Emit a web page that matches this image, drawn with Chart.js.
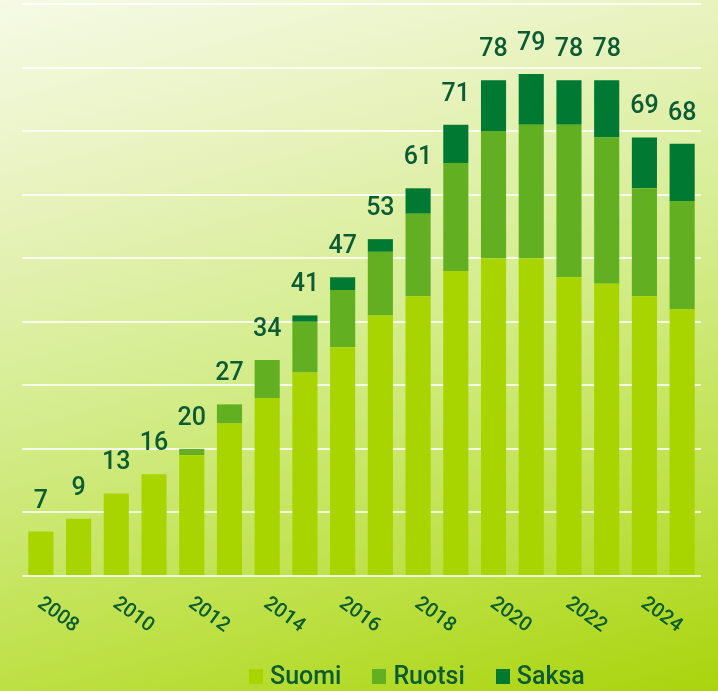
<!DOCTYPE html>
<html>
<head>
<meta charset="utf-8">
<script src="https://cdn.jsdelivr.net/npm/chart.js@4"></script>
<style>
    html, body { margin: 0; padding: 0; }
    body {
        width: 718px;
        height: 691px;
        overflow: hidden;
        background: linear-gradient(165deg, #f6fae6 0%, #e6f2ba 25%, #d3ec8a 50%, #bde044 78%, #a9d40c 100%);
        font-family: Roboto, sans-serif;
    }
    #wrap { position: relative; width: 718px; height: 691px; }
    #legend {
        position: absolute;
        left: 249px;
        top: 662px;
        display: flex;
        align-items: center;
        color: #0b5c33;
        font-size: 25px;
        font-weight: 500;
        line-height: 28px;
    }
    #legend span.item { display: flex; align-items: center; margin-right: 31px; }
    #legend span.box { display: inline-block; width: 14px; height: 15px; margin-right: 7px; }
</style>
</head>
<body>
<div id="wrap">
    <canvas id="chart" width="718" height="691"></canvas>
    <div id="legend"></div>
</div>
<script>
    // Data.
    const years = ['2008', '2009', '2010', '2011', '2012', '2013', '2014', '2015', '2016',
        '2017', '2018', '2019', '2020', '2021', '2022', '2023', '2024', '2025'];
    const shownYears = ['2008', '2010', '2012', '2014', '2016', '2018', '2020', '2022', '2024'];
    const suomi = [7, 9, 13, 16, 19, 24, 28, 32, 36, 41, 44, 48, 50, 50, 47, 46, 44, 42];
    const ruotsi = [0, 0, 0, 0, 1, 3, 6, 8, 9, 10, 13, 17, 20, 21, 24, 23, 17, 17];
    const saksa = [0, 0, 0, 0, 0, 0, 0, 1, 2, 2, 4, 6, 8, 8, 7, 9, 8, 9];
    const seriesNames = ['Suomi', 'Ruotsi', 'Saksa'];
    const seriesColors = ['#a8d400', '#62b022', '#007a33'];

    const textColor = '#0b5c33';

    // Totals above each stack.
    const totalsPlugin = {
        id: 'totals',
        afterDatasetsDraw(chart) {
            const ctx = chart.ctx;
            const yScale = chart.scales.y;
            const meta = chart.getDatasetMeta(0);
            ctx.save();
            ctx.fillStyle = textColor;
            ctx.font = '500 25px Roboto';
            ctx.textAlign = 'center';
            ctx.textBaseline = 'alphabetic';
            years.forEach((year, i) => {
                const total = suomi[i] + ruotsi[i] + saksa[i];
                const x = meta.data[i].x;
                const y = yScale.getPixelForValue(total);
                ctx.fillText(String(total), x, y - 24);
            });
            ctx.restore();
        }
    };

    // Year labels, rotated clockwise like the reference.
    const yearLabelsPlugin = {
        id: 'yearLabels',
        afterDraw(chart) {
            const ctx = chart.ctx;
            const xScale = chart.scales.x;
            ctx.save();
            ctx.fillStyle = textColor;
            ctx.font = '500 20px Roboto';
            ctx.textAlign = 'center';
            ctx.textBaseline = 'middle';
            shownYears.forEach(year => {
                const x = xScale.getPixelForValue(years.indexOf(year));
                ctx.save();
                ctx.translate(x + 17, chart.chartArea.bottom + 39);
                ctx.rotate(36 * Math.PI / 180);
                ctx.fillText(year, 0, 0);
                ctx.restore();
            });
            ctx.restore();
        }
    };

    const chartElement = document.getElementById('chart');
    new Chart(chartElement, {
        type: 'bar',
        data: {
            labels: years,
            datasets: [suomi, ruotsi, saksa].map((values, i) => ({
                label: seriesNames[i],
                data: values,
                backgroundColor: seriesColors[i],
                barPercentage: 0.74,
                categoryPercentage: 0.9
            }))
        },
        options: {
            responsive: false,
            animation: false,
            layout: {
                padding: { left: 22, right: 17, top: 4, bottom: 115 }
            },
            plugins: {
                legend: { display: false },
                tooltip: { enabled: false }
            },
            scales: {
                x: {
                    stacked: true,
                    display: false
                },
                y: {
                    stacked: true,
                    min: 0,
                    max: 90,
                    ticks: { display: false, stepSize: 10 },
                    border: { display: false },
                    grid: { color: 'rgba(255,255,255,0.8)', lineWidth: 2, drawTicks: false },
                    afterFit: scale => { scale.width = 0; }
                }
            }
        },
        plugins: [totalsPlugin, yearLabelsPlugin]
    });

    // Legend as HTML below the chart.
    const legend = document.getElementById('legend');
    seriesNames.forEach((name, i) => {
        const item = document.createElement('span');
        item.className = 'item';
        const box = document.createElement('span');
        box.className = 'box';
        box.style.background = seriesColors[i];
        item.appendChild(box);
        item.appendChild(document.createTextNode(name));
        legend.appendChild(item);
    });
</script>
</body>
</html>
